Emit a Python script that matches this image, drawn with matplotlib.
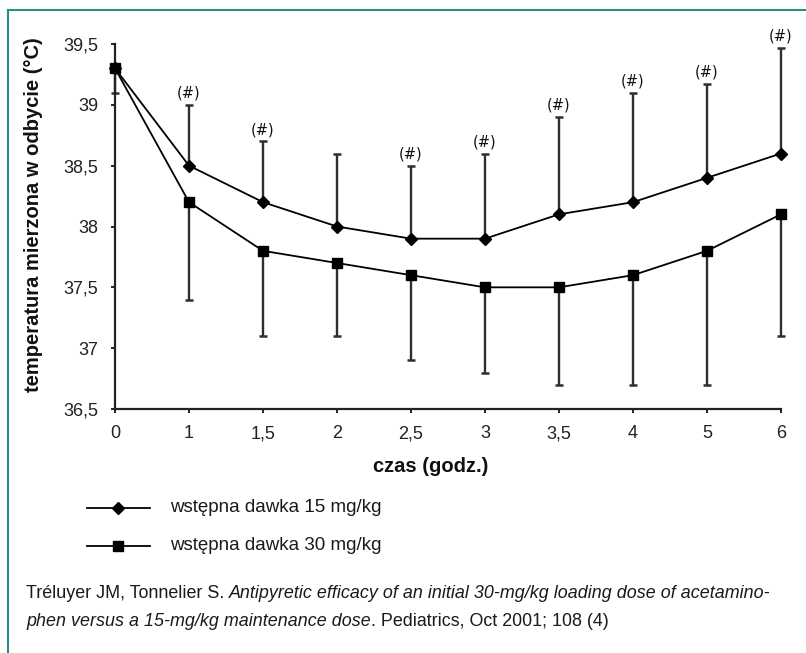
import matplotlib
matplotlib.use('Agg')
import matplotlib.pyplot as plt
from matplotlib.lines import Line2D
import numpy as np

# ---- data ----
time_labels = ['0', '1', '1,5', '2', '2,5', '3', '3,5', '4', '5', '6']
dose15_mean = [39.3, 38.5, 38.2, 38.0, 37.9, 37.9, 38.1, 38.2, 38.4, 38.6]
dose15_upper = [39.3, 39.0, 38.7, 38.6, 38.5, 38.6, 38.9, 39.1, 39.17, 39.47]
dose30_mean = [39.3, 38.2, 37.8, 37.7, 37.6, 37.5, 37.5, 37.6, 37.8, 38.1]
dose30_lower = [39.1, 37.4, 37.1, 37.1, 36.9, 36.8, 36.7, 36.7, 36.7, 37.1]
significant = [False, True, True, False, True, True, True, True, True, True]
ytick_values = [36.5, 37, 37.5, 38, 38.5, 39, 39.5]
ytick_labels = ['36,5', '37', '37,5', '38', '38,5', '39', '39,5']
series_labels = ['wstępna dawka 15 mg/kg', 'wstępna dawka 30 mg/kg']

W, H = 806, 653
fig = plt.figure(figsize=(W / 100, H / 100), dpi=100)
fig.patch.set_facecolor('white')

def fx(px):
    return px / W

def fy(py):
    return 1 - py / H

ax = fig.add_axes([fx(115), fy(409), (781 - 115) / W, (409 - 44) / H])
x = np.arange(len(time_labels))
m15 = np.array(dose15_mean); u15 = np.array(dose15_upper)
m30 = np.array(dose30_mean); l30 = np.array(dose30_lower)

ecol = '#2e2e2e'
for mean, err in [(m15, [np.zeros_like(m15), u15 - m15]), (m30, [m30 - l30, np.zeros_like(m30)])]:
    cont = ax.errorbar(x, mean, yerr=err, fmt='none', ecolor=ecol,
                       elinewidth=1.7, capsize=3, capthick=1.8, zorder=2)
    for art in cont.get_children():
        art.set_clip_on(False)

ax.plot(x, m15, color='black', lw=1.3, marker='D', markersize=6.5, zorder=3, clip_on=False)
ax.plot(x, m30, color='black', lw=1.3, marker='s', markersize=7, zorder=3, clip_on=False)

for xi, top, sig in zip(x, u15, significant):
    if sig:
        ax.annotate('(#)', (xi, top), xytext=(0, 3), textcoords='offset points',
                    ha='center', va='bottom', fontsize=10.5, family='DejaVu Sans', color='#111')

ax.set_xlim(0, len(time_labels) - 1)
ax.set_ylim(36.5, 39.5)
ax.set_xticks(x)
ax.set_xticklabels(time_labels)
ax.set_yticks(ytick_values)
ax.set_yticklabels(ytick_labels)
for s in ['top', 'right']:
    ax.spines[s].set_visible(False)
for s in ['left', 'bottom']:
    ax.spines[s].set_linewidth(1.6)
    ax.spines[s].set_color('#222')
ax.tick_params(axis='both', direction='out', length=3, width=1.4, color='#222',
               labelsize=13, labelcolor='#222')
ax.tick_params(axis='y', pad=9)
ax.tick_params(axis='x', pad=18)
for lab in ax.get_xticklabels():
    lab.set_family('Liberation Sans')
    lab.set_verticalalignment('baseline')
for lab in ax.get_yticklabels():
    lab.set_family('Liberation Sans')

fig.text(fx(34), fy(215), 'temperatura mierzona w odbycie (°C)', rotation=90,
         ha='center', va='center', fontsize=14.5, fontweight='bold',
         family='Liberation Sans', color='#111')
fig.text(fx(431), fy(467), 'czas (godz.)', ha='center', va='center', fontsize=14.5,
         fontweight='bold', family='Liberation Sans', color='#111')

# legend (drawn manually)
legend_rows = [(508, 'D', 6.5), (546, 's', 7)]
for (yy, mk, ms), lab in zip(legend_rows, series_labels):
    fig.add_artist(Line2D([fx(87), fx(150)], [fy(yy), fy(yy)], color='black', lw=1.3,
                          transform=fig.transFigure))
    fig.add_artist(Line2D([fx(118)], [fy(yy)], color='black', marker=mk, markersize=ms,
                          linestyle='none', transform=fig.transFigure))
    fig.text(fx(170), fy(yy), lab, ha='left', va='center', fontsize=13.5,
             family='Liberation Sans', color='#1a1a1a')

# caption with mixed styles
cap_lines = [
    [('Tréluyer JM, Tonnelier S. ', 'normal'),
     ('Antipyretic efficacy of an initial 30-mg/kg loading dose of acetamino-', 'italic')],
    [('phen versus a 15-mg/kg maintenance dose', 'italic'),
     ('. Pediatrics, Oct 2001; 108 (4)', 'normal')],
]
cap_y = [594, 621]
renderer = fig.canvas.get_renderer()
for pieces, yy in zip(cap_lines, cap_y):
    xpos = 26
    for txt, style in pieces:
        t = fig.text(fx(xpos), fy(yy), txt, ha='left', va='center', fontsize=12.9,
                     style=style, family='Liberation Sans', color='#1a1a1a')
        bb = t.get_window_extent(renderer=renderer)
        xpos += bb.width

# frame lines
teal = '#2a8c82'
fig.add_artist(Line2D([fx(8), fx(8)], [fy(10), 0.0], color=teal, lw=1.5,
                      transform=fig.transFigure))
fig.add_artist(Line2D([fx(8), 1.0], [fy(10), fy(10)], color=teal, lw=1.5,
                      transform=fig.transFigure))

fig.savefig('out.png', dpi=100)
